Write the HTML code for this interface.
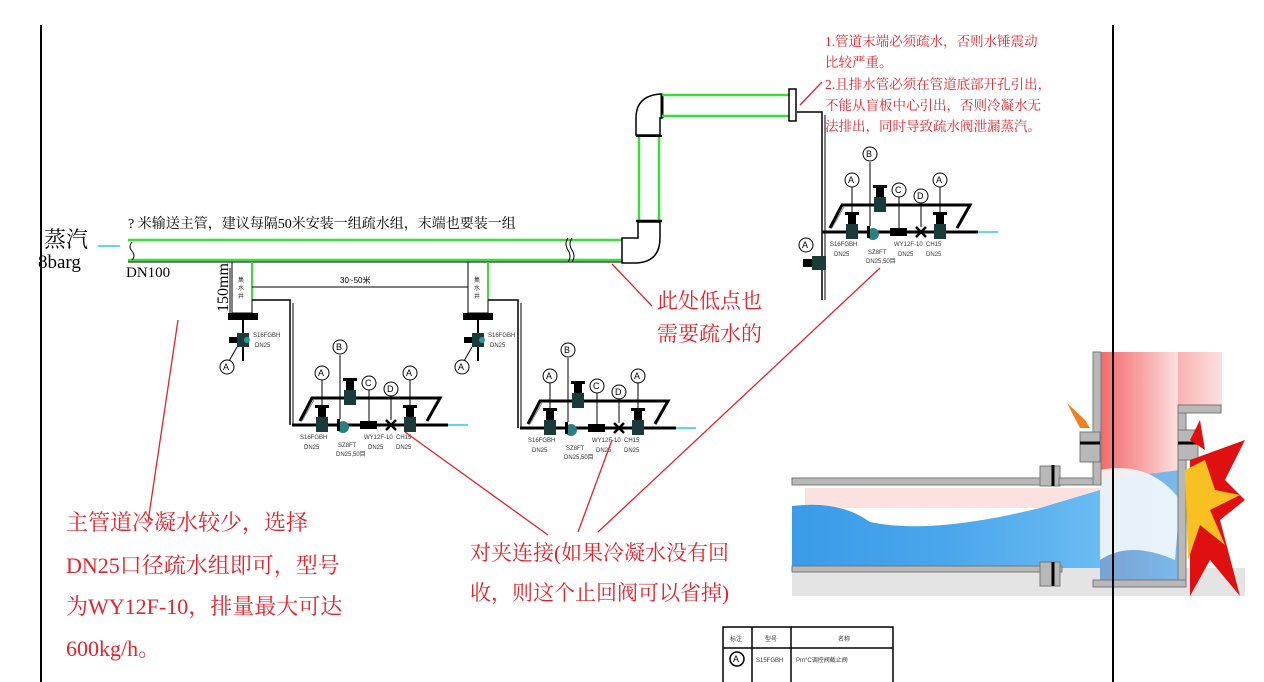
<!DOCTYPE html>
<html><head><meta charset="utf-8"><style>
html,body{margin:0;padding:0;background:#fff;}
svg{display:block}
.cn{font-family:"Liberation Serif","Noto Serif CJK SC",serif;}
.r{fill:#e8202a;}
.t{font-family:"Liberation Sans","Noto Sans CJK SC",sans-serif;font-size:6px;fill:#333}
</style></head><body>
<svg width="1264" height="682" viewBox="0 0 1264 682" xmlns="http://www.w3.org/2000/svg">
<defs>
<linearGradient id="pk" x1="0" y1="0" x2="1" y2="0">
<stop offset="0" stop-color="#f26a6a"/><stop offset="0.5" stop-color="#f7a0a0"/><stop offset="1" stop-color="#fde0e0"/></linearGradient>
<linearGradient id="bl" x1="0" y1="0" x2="1" y2="0">
<stop offset="0" stop-color="#3a9be8"/><stop offset="0.5" stop-color="#4aa6ec"/><stop offset="1" stop-color="#6bbcf2"/></linearGradient>
<g id="grp">
<line x1="0" y1="0" x2="156" y2="0" stroke="#000" stroke-width="3"/>
<line x1="156" y1="0" x2="176" y2="0" stroke="#5fd8e8" stroke-width="2"/>
<polyline points="8,-4 20,-27 148,-27 135,-4" fill="none" stroke="#000" stroke-width="3"/>
<polyline points="10,-4 22,-25" fill="none" stroke="#888" stroke-width="1"/>
<rect x="24" y="-8" width="12" height="15" fill="#1b3b3b"/><rect x="26" y="-18" width="8" height="10" fill="#000"/><rect x="23" y="-20" width="14" height="3" fill="#000"/>
<rect x="112" y="-8" width="12" height="15" fill="#1b3b3b"/><rect x="114" y="-18" width="8" height="10" fill="#000"/><rect x="111" y="-20" width="14" height="3" fill="#000"/>
<rect x="52" y="-35" width="12" height="15" fill="#1b3b3b"/><rect x="54" y="-45" width="8" height="10" fill="#000"/><rect x="51" y="-47" width="14" height="3" fill="#000"/>
<circle cx="51" cy="2" r="6" fill="#2a8080"/><rect x="45" y="-6" width="3" height="12" fill="#000"/>
<rect x="68" y="-4" width="17" height="8" fill="#000"/>
<path d="M94,-5 L104,5 M104,-5 L94,5" stroke="#000" stroke-width="2.5"/>
<line x1="48" y1="-6" x2="48" y2="-70" stroke="#000"/>
<line x1="30" y1="-20" x2="30" y2="-45" stroke="#000"/>
<line x1="118" y1="-20" x2="118" y2="-45" stroke="#000"/>
<line x1="77" y1="-4" x2="77" y2="-36" stroke="#000"/>
<line x1="99" y1="-5" x2="99" y2="-29" stroke="#000"/>
<circle cx="30" cy="-52" r="7" fill="#fff" stroke="#000"/>
<circle cx="48" cy="-78" r="7" fill="#fff" stroke="#000"/>
<circle cx="77" cy="-42" r="7" fill="#fff" stroke="#000"/>
<circle cx="99" cy="-36" r="7" fill="#fff" stroke="#000"/>
<circle cx="118" cy="-52" r="7" fill="#fff" stroke="#000"/>
<text x="26" y="-49" font-size="9" font-family="Liberation Sans">A</text>
<text x="44" y="-75" font-size="9" font-family="Liberation Sans">B</text>
<text x="73" y="-39" font-size="9" font-family="Liberation Sans">C</text>
<text x="95" y="-33" font-size="9" font-family="Liberation Sans">D</text>
<text x="114" y="-49" font-size="9" font-family="Liberation Sans">A</text>
<text x="8" y="14" class="t">S16FGBH</text><text x="12" y="24" class="t">DN25</text>
<text x="46" y="22" class="t">SZ8FT</text><text x="44" y="31" class="t">DN25,50目</text>
<text x="72" y="14" class="t">WY12F-10</text><text x="76" y="24" class="t">DN25</text>
<text x="104" y="14" class="t">CH15</text><text x="104" y="24" class="t">DN25</text>
</g>
<g id="dv">
<rect x="-15" y="0" width="30" height="7" fill="#000"/>
<line x1="0" y1="7" x2="0" y2="48" stroke="#000" stroke-width="2"/>
<rect x="-6" y="20" width="12" height="14" fill="#1b3b3b"/>
<rect x="-14" y="24" width="8" height="6" fill="#000"/>
<circle cx="4" cy="27" r="3" fill="#2a9a9a"/>
<line x1="-6" y1="34" x2="-14" y2="48" stroke="#000"/>
<circle cx="-16" cy="54" r="7" fill="#fff" stroke="#000"/>
<text x="-20" y="57" font-size="9" font-family="Liberation Sans">A</text>
<text x="10" y="24" class="t">S16FGBH</text><text x="12" y="34" class="t">DN25</text>
</g>
</defs>

<!-- frame lines -->
<line x1="41" y1="25" x2="41" y2="682" stroke="#000" stroke-width="2"/>
<line x1="1113" y1="25" x2="1113" y2="682" stroke="#000" stroke-width="2"/>

<!-- main pipe -->
<rect x="128" y="240" width="495" height="20" fill="#fff"/>
<line x1="128" y1="240" x2="623" y2="240" stroke="#3bdc3b" stroke-width="2.5"/>
<line x1="128" y1="260" x2="623" y2="260" stroke="#3bdc3b" stroke-width="2.5"/>
<line x1="128" y1="262" x2="623" y2="262" stroke="#000" stroke-width="1"/>
<path d="M132,242 q-4,5 0,9 q4,5 0,9" fill="none" stroke="#000"/>
<path d="M568,238 q-4,6 0,12 q4,6 0,12 M572,238 q-4,6 0,12 q4,6 0,12" fill="none" stroke="#000"/>
<line x1="98" y1="246" x2="120" y2="246" stroke="#5fd8e8" stroke-width="2"/>
<!-- lower elbow -->
<path d="M622,238 L638,238 L638,222 L660,222 L660,238 Q660,262 636,263 L622,263 Z" fill="#fff" stroke="#000" stroke-width="1.5"/>
<!-- vertical pipe -->
<line x1="639" y1="135" x2="639" y2="222" stroke="#3bdc3b" stroke-width="2.5"/>
<line x1="659" y1="135" x2="659" y2="222" stroke="#3bdc3b" stroke-width="2.5"/>
<line x1="636" y1="221" x2="662" y2="221" stroke="#000" stroke-width="2.5"/>
<!-- upper elbow -->
<path d="M636,135 L636,118 Q636,96 660,94 L662,94 L662,118 L660,118 Q660,125 660,135 Z" fill="#fff" stroke="#000" stroke-width="1.5"/>
<line x1="636" y1="136" x2="662" y2="136" stroke="#000" stroke-width="2"/>
<line x1="662" y1="94" x2="662" y2="118" stroke="#000" stroke-width="3"/>
<line x1="662" y1="95" x2="790" y2="95" stroke="#3bdc3b" stroke-width="2.5"/>
<line x1="662" y1="116" x2="790" y2="116" stroke="#3bdc3b" stroke-width="2.5"/>
<rect x="789" y="89" width="7" height="32" fill="#fff" stroke="#000" stroke-width="1.5"/>
<polyline points="797,112 822,112 822,300" fill="none" stroke="#000" stroke-width="1.5"/>
<line x1="825" y1="115" x2="825" y2="300" stroke="#000" stroke-width="1"/>

<!-- drop legs -->
<rect x="232" y="262" width="20" height="51" fill="#fff" stroke="#000"/>
<line x1="252" y1="262" x2="252" y2="300" stroke="#3bdc3b" stroke-width="2"/>
<rect x="468" y="262" width="20" height="51" fill="#fff" stroke="#000"/>
<line x1="488" y1="262" x2="488" y2="300" stroke="#3bdc3b" stroke-width="2"/>
<text x="238" y="282" class="t">集</text><text x="238" y="290" class="t">水</text><text x="238" y="298" class="t">井</text>
<text x="474" y="282" class="t">集</text><text x="474" y="290" class="t">水</text><text x="474" y="298" class="t">井</text>
<line x1="230" y1="268" x2="230" y2="313" stroke="#000"/>
<text transform="translate(228,312) rotate(-90)" font-family="Liberation Serif" font-size="16">150mm</text>
<line x1="252" y1="287" x2="468" y2="287" stroke="#000"/>
<text x="340" y="283" font-family="Liberation Sans" font-size="8">30~50米</text>
<use href="#dv" x="243" y="313"/>
<use href="#dv" x="478" y="313"/>
<polyline points="252,300 290,300 290,425" fill="none" stroke="#000" stroke-width="1.5"/>
<line x1="293" y1="303" x2="293" y2="425" stroke="#000"/>
<polyline points="488,300 518,300 518,428" fill="none" stroke="#000" stroke-width="1.5"/>
<line x1="521" y1="303" x2="521" y2="428" stroke="#000"/>
<use href="#grp" x="292" y="425"/>
<use href="#grp" x="520" y="428"/>
<use href="#grp" x="822" y="232"/>
<!-- group3 side valve -->
<rect x="812" y="256" width="14" height="14" fill="#1b3b3b"/><rect x="803" y="259" width="9" height="8" fill="#000"/>
<circle cx="806" cy="245" r="7" fill="#fff" stroke="#000"/><text x="802" y="248" font-size="9" font-family="Liberation Sans">A</text>

<!-- texts -->
<text x="128" y="228" class="cn" font-size="14">? 米输送主管，建议每隔50米安装一组疏水组，末端也要装一组</text>
<text x="44" y="247" class="cn" font-size="22">蒸汽</text>
<text x="38" y="268" font-family="Liberation Serif" font-size="19">8barg</text>
<text x="126" y="277" font-family="Liberation Serif" font-size="15">DN100</text>
<text x="657" y="308" class="cn r" font-size="21">此处低点也</text>
<text x="657" y="341" class="cn r" font-size="21">需要疏水的</text>
<g class="cn r" font-size="13.5">
<text x="825" y="46">1.管道末端必须疏水，否则水锤震动</text>
<text x="825" y="67">比较严重。</text>
<text x="825" y="89">2.且排水管必须在管道底部开孔引出，</text>
<text x="825" y="110">不能从盲板中心引出，否则冷凝水无</text>
<text x="825" y="131">法排出，同时导致疏水阀泄漏蒸汽。</text>
</g>
<g class="cn r" font-size="22">
<text x="66" y="530">主管道冷凝水较少，选择</text>
<text x="66" y="573">DN25口径疏水组即可，型号</text>
<text x="66" y="614">为WY12F-10，排量最大可达</text>
<text x="66" y="656">600kg/h。</text>
</g>
<g class="cn r" font-size="21">
<text x="470" y="560">对夹连接(如果冷凝水没有回</text>
<text x="470" y="600">收，则这个止回阀可以省掉)</text>
</g>
<!-- red leader lines -->
<g stroke="#e8202a" stroke-width="1.3">
<line x1="178" y1="320" x2="148" y2="522"/>
<line x1="405" y1="432" x2="548" y2="535"/>
<line x1="612" y1="440" x2="578" y2="532"/>
<line x1="880" y1="268" x2="598" y2="532"/>
<line x1="612" y1="264" x2="652" y2="306"/>
<line x1="800" y1="105" x2="822" y2="82"/>
</g>

<!-- table -->
<g stroke="#000" stroke-width="1.5" fill="none">
<rect x="723" y="627" width="170" height="60"/>
<line x1="723" y1="648" x2="893" y2="648"/>
<line x1="752" y1="627" x2="752" y2="682"/>
<line x1="791" y1="627" x2="791" y2="682"/>
</g>
<text x="730" y="641" class="t">标注</text><text x="765" y="641" class="t">型号</text><text x="838" y="641" class="t">名称</text>
<circle cx="737" cy="659" r="7" fill="#fff" stroke="#000" stroke-width="1.5"/>
<text x="733" y="662" font-size="9" font-family="Liberation Sans">A</text>
<text x="756" y="662" class="t">S15FGBH</text><text x="796" y="662" class="t">Pm°C调控阀截止阀</text>

<!-- inset image -->
<g>
<rect x="792" y="352" width="453" height="244" fill="#fff"/>
<rect x="792" y="568" width="453" height="28" fill="#e4e4e4"/>
<rect x="1102" y="352" width="120" height="60" fill="url(#pk)"/>
<rect x="1100" y="352" width="78" height="232" fill="url(#pk)"/>
<rect x="805" y="488" width="300" height="20" fill="#fbd4d4" opacity="0.7"/>
<path d="M792,506 Q840,500 870,522 Q930,535 1040,508 L1100,490 L1100,568 L792,568 Z" fill="url(#bl)"/>
<path d="M1100,480 L1180,470 L1178,584 L1100,584 Z" fill="#5ab0ee" opacity="0.8"/>
<path d="M1100,470 Q1150,460 1180,500 L1175,560 Q1130,540 1100,560 Z" fill="#f4f8fc" opacity="0.9"/>
<!-- walls -->
<rect x="792" y="478" width="270" height="7" fill="#b8b8b8" stroke="#777"/>
<rect x="792" y="566" width="270" height="6" fill="#b8b8b8" stroke="#777"/>
<rect x="1040" y="466" width="20" height="20" fill="#b8b8b8" stroke="#777"/>
<rect x="1040" y="562" width="20" height="24" fill="#b8b8b8" stroke="#777"/>
<rect x="1059" y="478" width="40" height="7" fill="#b8b8b8" stroke="#777"/>
<rect x="1093" y="352" width="8" height="133" fill="#b8b8b8" stroke="#777"/>
<rect x="1080" y="432" width="20" height="30" fill="#b8b8b8" stroke="#777"/>
<rect x="1178" y="405" width="8" height="180" fill="#b8b8b8" stroke="#777"/>
<rect x="1178" y="405" width="43" height="8" fill="#b8b8b8" stroke="#777"/>
<rect x="1178" y="430" width="20" height="30" fill="#b8b8b8" stroke="#777"/>
<rect x="1093" y="580" width="93" height="7" fill="#b8b8b8" stroke="#777"/>
<line x1="1053" y1="465" x2="1053" y2="486" stroke="#000" stroke-width="3"/>
<line x1="1053" y1="562" x2="1053" y2="586" stroke="#000" stroke-width="3"/>
<line x1="1080" y1="443" x2="1100" y2="443" stroke="#000" stroke-width="3"/>
<line x1="1178" y1="443" x2="1198" y2="443" stroke="#000" stroke-width="3"/>
<path d="M1067,403 L1085,420 L1090,428 L1080,428 Z" fill="#f08020"/>
<path d="M1190,460 L1245,440 L1225,480 L1245,500 L1220,520 L1240,596 L1210,560 L1190,596 Z" fill="#e01010"/>
<path d="M1185,470 L1205,460 L1215,490 L1240,495 L1210,510 L1225,545 L1200,525 L1188,560 Z" fill="#f8c020"/>
<path d="M1190,440 L1200,420 L1205,450 Z" fill="#e01010"/>
</g>
<line x1="1113" y1="352" x2="1113" y2="596" stroke="#000" stroke-width="2"/>
</svg>
</body></html>
